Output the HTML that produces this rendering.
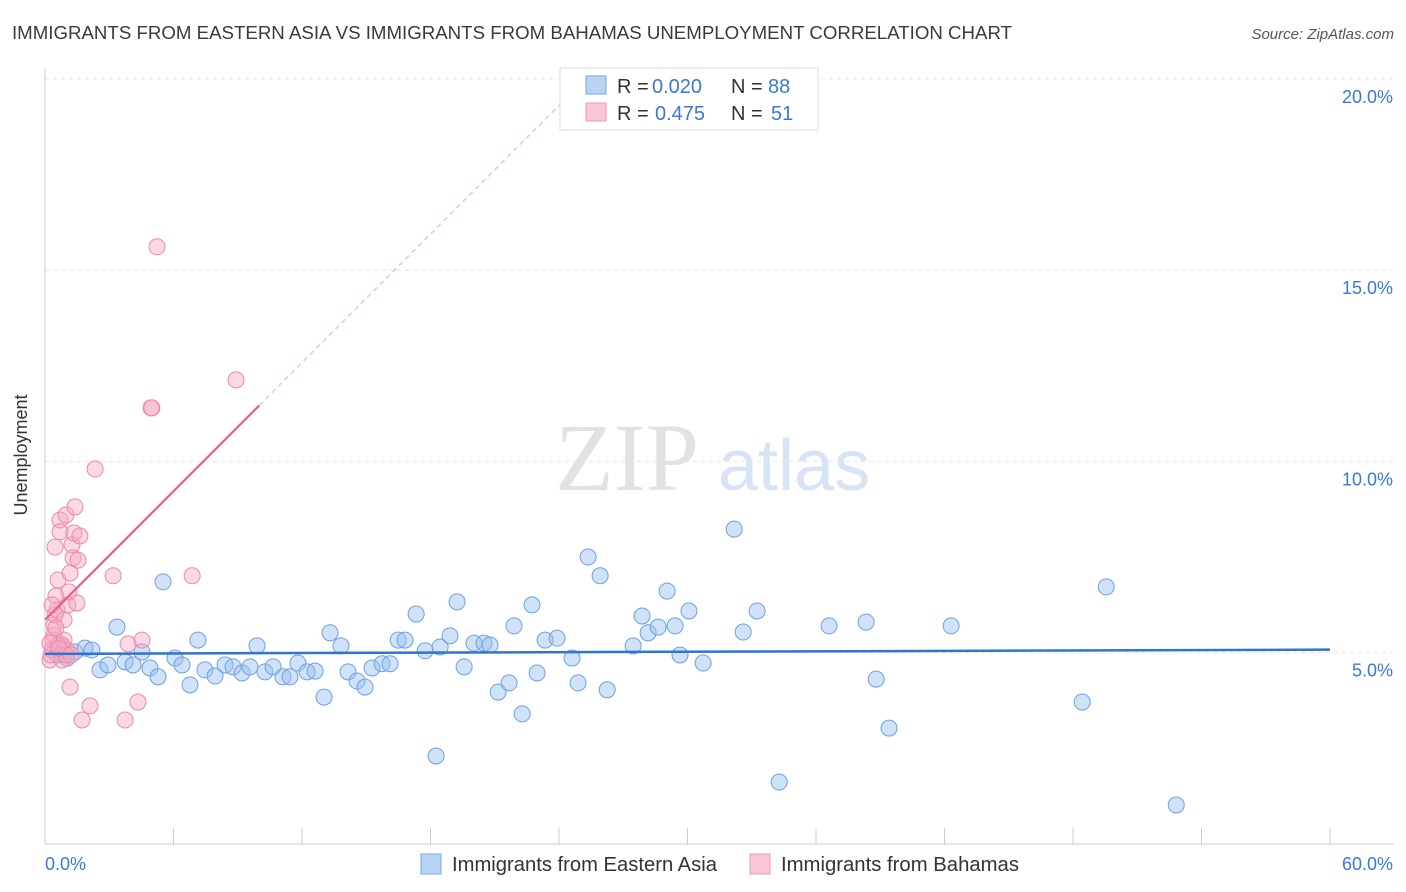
<!DOCTYPE html>
<html><head><meta charset="utf-8"><style>
body{margin:0;background:#fff;font-family:"Liberation Sans",sans-serif;}
svg{display:block}
</style></head><body>
<svg id="c" width="1406" height="892">
<text x="12" y="39" font-size="18" fill="#3a3a3a" textLength="1000" lengthAdjust="spacingAndGlyphs">IMMIGRANTS FROM EASTERN ASIA VS IMMIGRANTS FROM BAHAMAS UNEMPLOYMENT CORRELATION CHART</text>
<text x="1394" y="39" font-size="15" fill="#555" font-style="italic" text-anchor="end">Source: ZipAtlas.com</text>
<text x="27" y="455" font-size="18" fill="#333" text-anchor="middle" transform="rotate(-90 27 455)">Unemployment</text>
<text x="555" y="490" font-size="96" fill="#e2e2e2" font-family="Liberation Serif,serif">ZIP</text>
<text x="718" y="490" font-size="72" fill="#d6e4f5">atlas</text>
<g id="grid"></g><g id="axes"></g><g id="pts"></g><g id="lines"></g>
<g>
<rect x="560" y="68" width="258" height="62" fill="#fff" stroke="#ddd"/>
<rect x="586" y="76" width="20" height="18" fill="#b9d3f5" stroke="#7aa7e0"/>
<rect x="586" y="103" width="20" height="18" fill="#f9c6d6" stroke="#ee99b5"/>
<text y="93" font-size="20" fill="#333"><tspan x="617">R = </tspan><tspan x="652" fill="#3a78d8">0.020</tspan><tspan x="731">N = </tspan><tspan x="768" fill="#3a78d8">88</tspan></text>
<text y="120" font-size="20" fill="#333"><tspan x="617">R = </tspan><tspan x="655" fill="#3a78d8">0.475</tspan><tspan x="731">N = </tspan><tspan x="771" fill="#3a78d8">51</tspan></text>
</g>
<g>
<rect x="421" y="854" width="20" height="20" fill="#b9d3f5" stroke="#7aa7e0"/>
<text x="452" y="871" font-size="20" fill="#333" textLength="265" lengthAdjust="spacingAndGlyphs">Immigrants from Eastern Asia</text>
<rect x="750" y="854" width="20" height="20" fill="#f9c6d6" stroke="#ee99b5"/>
<text x="781" y="871" font-size="20" fill="#333" textLength="238" lengthAdjust="spacingAndGlyphs">Immigrants from Bahamas</text>
</g>
</svg>
<script>
const xTicks=[0,6,12,18,24,30,36,42,48,54,60];
const yTicks=[5,10,15,20];
const yTickLabels=["5.0%","10.0%","15.0%","20.0%"];
const blueX=[0.56,0.79,1.03,1.40,1.87,2.19,2.57,2.94,3.36,3.74,4.11,4.53,4.90,5.28,5.51,6.07,6.40,6.77,7.14,7.47,7.94,8.41,8.78,9.20,9.57,9.90,10.27,10.65,11.11,11.44,11.81,12.24,12.61,13.03,13.31,13.82,14.15,14.57,14.94,15.27,15.74,16.11,16.49,16.81,17.33,17.75,18.26,18.45,18.91,19.24,19.57,20.03,20.50,20.78,21.16,21.67,21.90,22.28,22.74,22.98,23.35,23.91,24.61,24.89,25.36,25.92,26.25,27.46,27.88,28.16,28.63,29.05,29.42,29.65,30.07,30.73,32.18,32.60,33.25,34.28,36.61,38.34,38.81,39.41,42.31,48.43,49.55,52.82];
const blueY=[4.94,5.20,4.86,5.02,5.12,5.07,4.55,4.68,5.67,4.76,4.68,5.02,4.60,4.37,6.85,4.86,4.68,4.16,5.33,4.55,4.39,4.68,4.63,4.47,4.63,5.18,4.50,4.63,4.37,4.37,4.73,4.50,4.52,3.84,5.52,5.18,4.50,4.26,4.10,4.60,4.71,4.71,5.33,5.33,6.01,5.05,2.30,5.15,5.44,6.33,4.63,5.25,5.25,5.20,3.97,4.21,5.70,3.40,6.25,4.47,5.33,5.38,4.86,4.21,7.50,7.01,4.03,5.18,5.96,5.52,5.67,6.61,5.70,4.94,6.09,4.73,8.23,5.54,6.09,1.62,5.70,5.80,4.31,3.03,5.70,3.71,6.72,1.02];
const pinkX=[0.23,0.33,0.37,0.42,0.47,0.47,0.51,0.56,0.61,0.70,0.70,0.75,0.84,0.89,0.98,1.03,1.07,1.12,1.17,1.17,1.26,1.31,1.35,1.40,1.49,1.54,1.63,1.73,2.10,2.34,3.18,3.74,3.88,4.34,4.53,4.95,5.23,6.87,8.92,0.28,0.33,0.42,0.61,0.79,0.89,0.98,0.23,0.51,0.65,1.21,4.99];
const pinkY=[4.81,5.07,5.33,5.72,5.99,7.76,6.48,6.12,6.90,8.47,8.16,5.20,5.07,5.86,8.60,5.07,6.25,6.59,7.08,4.10,7.82,7.48,8.13,8.81,6.30,7.42,8.05,3.24,3.61,9.80,7.01,3.24,5.23,3.71,5.33,11.40,15.61,7.01,12.13,4.94,6.25,5.46,5.20,4.81,5.33,4.94,5.25,5.65,5.12,4.94,11.40];
const blueTrend=[4.97,5.08];
const pinkTrend=[5.86,0.56];
const X=v=>45+v/60*1285, Y=v=>844-v/5*191.3;
const NS="http://www.w3.org/2000/svg";
function mk(p,t,a){const e=document.createElementNS(NS,t);for(const k in a)e.setAttribute(k,a[k]);document.getElementById(p).appendChild(e);return e;}
yTicks.forEach((t,i)=>{
 const g=mk('grid','line',{x1:45,x2:1394,y1:Y(t),y2:Y(t),stroke:'#e4e4e4','stroke-dasharray':'4,4'});
 
 
 const l=mk('axes','text',{x:1393,y:Y(t)+24,'font-size':18,fill:'#3a78d8','text-anchor':'end'});
 l.textContent=yTickLabels[i];
 
 
});
mk('axes','line',{x1:45,x2:45,y1:68,y2:844,stroke:'#ccc'});
mk('axes','line',{x1:45,x2:1394,y1:844,y2:844,stroke:'#ccc'});
xTicks.forEach(t=>{const e=mk('axes','line',{x1:X(t),x2:X(t),y1:828,y2:844,stroke:'#ccc'});
 
 });
let a=mk('axes','text',{x:45,y:870,'font-size':18,fill:'#3a78d8'});a.textContent='0.0%';


a=mk('axes','text',{x:1393,y:870,'font-size':18,fill:'#3a78d8','text-anchor':'end'});a.textContent='60.0%';


blueX.forEach((v,i)=>{const c=mk('pts','circle',{cx:X(v),cy:Y(blueY[i]),r:8,fill:'rgba(150,190,240,0.45)',stroke:'#6fa0e0','stroke-width':1});
 
 });
pinkX.forEach((v,i)=>{const c=mk('pts','circle',{cx:X(v),cy:Y(pinkY[i]),r:8,fill:'rgba(245,170,195,0.45)',stroke:'#ee88aa','stroke-width':1});
 
 });
let t=mk('lines','line',{x1:X(0),y1:Y(blueTrend[0]),x2:X(60),y2:Y(blueTrend[1]),stroke:'#2f74d0','stroke-width':2.5});


const pEnd=(20-pinkTrend[0])/pinkTrend[1];
t=mk('lines','line',{x1:X(0),y1:Y(pinkTrend[0]),x2:X(10),y2:Y(pinkTrend[0]+10*pinkTrend[1]),stroke:'#e8608a','stroke-width':2.2});


t=mk('lines','line',{x1:X(10),y1:Y(pinkTrend[0]+10*pinkTrend[1]),x2:X(pEnd),y2:Y(20),stroke:'#f0a8c0','stroke-width':1,'stroke-dasharray':'5,4'});


</script>
</body></html>
